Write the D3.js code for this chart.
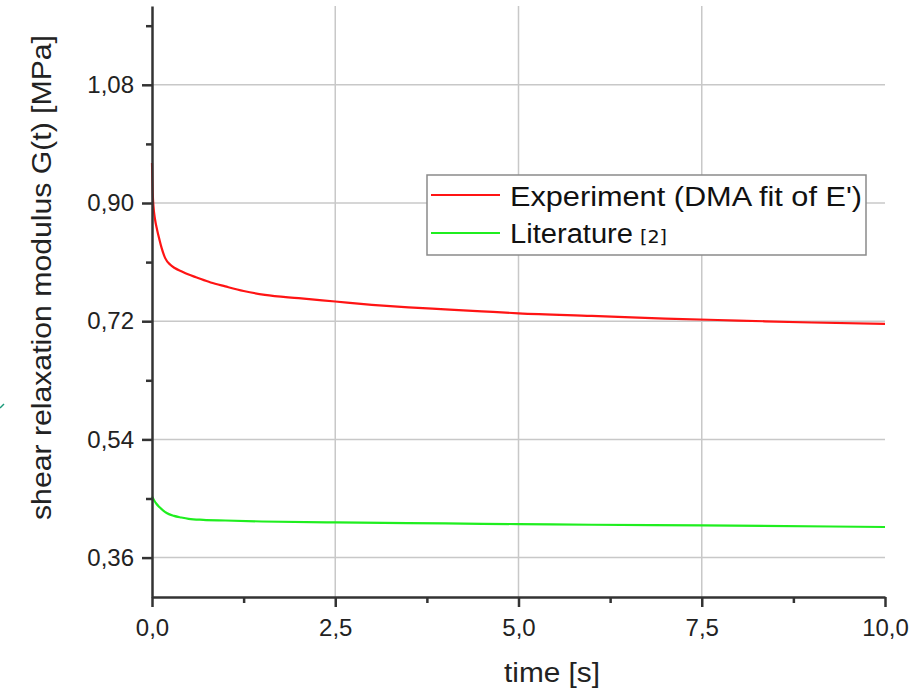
<!DOCTYPE html>
<html>
<head>
<meta charset="utf-8">
<script src="https://cdn.jsdelivr.net/npm/d3@7"></script>
<style>
  body { margin: 0; background: #fff; }
  text { font-family: "Liberation Sans", Arial, sans-serif; }
</style>
</head>
<body>
<svg id="chart"></svg>
<script>
/*------------------------
  ------ VARIABLES -------
  ------------------------*/

// data
var time_exp = [0, 0.005, 0.01, 0.02, 0.04, 0.07, 0.1, 0.13, 0.18, 0.25, 0.31, 0.4, 0.5, 0.6, 0.8, 1.0, 1.25, 1.54, 2.0, 2.5, 3.0, 3.5, 4.0, 4.5, 5.0, 6.0, 7.0, 8.0, 9.0, 10.0];
var g_exp    = [0.961, 0.935, 0.915, 0.895, 0.876, 0.859, 0.845, 0.832, 0.816, 0.806, 0.801, 0.796, 0.791, 0.787, 0.779, 0.773, 0.766, 0.760, 0.755, 0.750, 0.745, 0.741, 0.738, 0.735, 0.732, 0.728, 0.724, 0.721, 0.718, 0.716];

var time_lit = [0, 0.03, 0.06, 0.1, 0.15, 0.2, 0.3, 0.4, 0.5, 0.7, 1.0, 1.5, 2.5, 4.0, 5.0, 6.0, 7.5, 10.0];
var g_lit    = [0.453, 0.447, 0.442, 0.437, 0.432, 0.428, 0.4235, 0.421, 0.419, 0.4175, 0.4165, 0.415, 0.4135, 0.412, 0.411, 0.410, 0.409, 0.4066];

var series_names = ["Experiment (DMA fit of E')", "Literature"];
var series_ref = ["[2]"];

var x_ticks = [0, 2.5, 5, 7.5, 10];
var x_minor = [1.25, 3.75, 6.25, 8.75];
var y_ticks = [0.36, 0.54, 0.72, 0.90, 1.08];
var y_minor = [0.45, 0.63, 0.81, 0.99, 1.17];

var x_label = "time [s]";
var y_label = "shear relaxation modulus G(t) [MPa]";

// display
var W = 922, H = 691;
var plot = {left: 152, right: 885, top: 6, bottom: 597};
var colors = {exp: "#ff1414", lit: "#1fee1f", axis: "#333", grid: "#c8c8c8", txt: "#222"};

var loc = d3.formatLocale({decimal: ",", thousands: ".", grouping: [3], currency: ["", ""]});
var fx = loc.format(".1f"), fy = loc.format(".2f");

var x = d3.scaleLinear().domain([0, 10]).range([plot.left, plot.right]);
var y = d3.scaleLinear().domain([0.30, 1.20]).range([plot.bottom, plot.top]);

var svg = d3.select("#chart").attr("width", W).attr("height", H);

/*---------------------
  ------- GRID --------
  ---------------------*/
var grid = svg.append("g").attr("class", "grid-layer");
grid.selectAll(".hgrid").data(y_ticks).enter().append("line")
    .attr("x1", plot.left).attr("x2", plot.right)
    .attr("y1", y).attr("y2", y)
    .attr("stroke", colors.grid).attr("stroke-width", 1.5);
grid.selectAll(".vgrid").data(x_ticks.slice(1, -1)).enter().append("line")
    .attr("x1", x).attr("x2", x)
    .attr("y1", plot.top).attr("y2", plot.bottom)
    .attr("stroke", colors.grid).attr("stroke-width", 1.5);

/*---------------------
  ------- CURVES ------
  ---------------------*/
function curve(ts, gs) {
    return d3.line()
        .x(function(d, i) { return x(ts[i]); })
        .y(function(d, i) { return y(gs[i]); })
        .curve(d3.curveMonotoneX)(gs);
}
svg.append("path").attr("d", curve(time_lit, g_lit))
    .attr("fill", "none").attr("stroke", colors.lit).attr("stroke-width", 2.2);
svg.append("path").attr("d", curve(time_exp, g_exp))
    .attr("fill", "none").attr("stroke", colors.exp).attr("stroke-width", 2.2);

/*---------------------
  ------- AXES --------
  ---------------------*/
function style_axis(g) {
    g.select(".domain").attr("stroke", colors.axis).attr("stroke-width", 2.5);
    g.selectAll(".tick line").attr("stroke", colors.axis).attr("stroke-width", 2.5);
    g.selectAll(".tick text").attr("fill", colors.txt)
        .style("font-size", "24px");
}

var yax = svg.append("g").attr("transform", "translate(" + plot.left + ",0)")
    .call(d3.axisLeft(y).tickValues(y_ticks).tickFormat(fy).tickSize(10).tickSizeOuter(0).tickPadding(8));
style_axis(yax);
svg.append("g").attr("transform", "translate(" + plot.left + ",0)")
    .call(d3.axisLeft(y).tickValues(y_minor).tickFormat("").tickSize(6).tickSizeOuter(0))
    .call(function(g) { g.select(".domain").remove(); })
    .call(style_axis);

var xax = svg.append("g").attr("transform", "translate(0," + plot.bottom + ")")
    .call(d3.axisBottom(x).tickValues(x_ticks).tickFormat(fx).tickSize(10).tickSizeOuter(0).tickPadding(12));
style_axis(xax);
svg.append("g").attr("transform", "translate(0," + plot.bottom + ")")
    .call(d3.axisBottom(x).tickValues(x_minor).tickFormat("").tickSize(6).tickSizeOuter(0))
    .call(function(g) { g.select(".domain").remove(); })
    .call(style_axis);

// axis titles
svg.append("text").text(x_label)
    .attr("x", 504).attr("y", 682)
    .attr("textLength", 96).attr("lengthAdjust", "spacingAndGlyphs")
    .attr("fill", colors.txt)
    .style("font-size", "27px");
svg.append("text").text(y_label)
    .attr("transform", "translate(51,520) rotate(-90)")
    .attr("textLength", 485).attr("lengthAdjust", "spacingAndGlyphs")
    .attr("fill", colors.txt)
    .style("font-size", "27px");

/*---------------------
  ------ LEGEND -------
  ---------------------*/
var leg = svg.append("g").attr("class", "legend");
leg.append("rect").attr("x", 427).attr("y", 175).attr("width", 439).attr("height", 80)
    .attr("fill", "#fff").attr("stroke", "#8a8a8a").attr("stroke-width", 1.5);
var leg_items = [{name: series_names[0], color: colors.exp, len: 352},
                 {name: series_names[1], color: colors.lit, len: 123}];
leg.selectAll(".li").data(leg_items).enter().append("line")
    .attr("x1", 431).attr("x2", 500)
    .attr("y1", function(d, i) { return 195 + i * 38; })
    .attr("y2", function(d, i) { return 195 + i * 38; })
    .attr("stroke", function(d) { return d.color; }).attr("stroke-width", 2.2);
leg.selectAll(".lt").data(leg_items).enter().append("text")
    .text(function(d) { return d.name; })
    .attr("x", 510)
    .attr("y", function(d, i) { return 206 + i * 37; })
    .attr("textLength", function(d) { return d.len; })
    .attr("lengthAdjust", "spacingAndGlyphs")
    .attr("fill", "#111").style("font-size", "27px");
leg.append("text").text(series_ref[0])
    .attr("x", 640).attr("y", 243)
    .attr("textLength", 27).attr("lengthAdjust", "spacingAndGlyphs")
    .attr("fill", "#111").style("font-family", "'DejaVu Sans', sans-serif").style("font-size", "17px");

// small stray mark on left edge of the original figure
svg.append("path").attr("d", "M0,408 L4,404").attr("stroke", "#1a9a7a").attr("stroke-width", 1.5);
</script>
</body>
</html>
